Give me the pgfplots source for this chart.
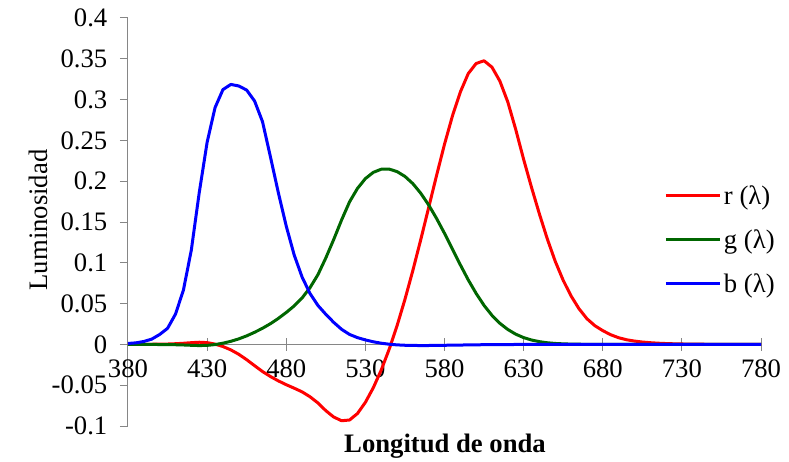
\documentclass[border=0pt]{standalone}
\usepackage{fontspec}
\setmainfont{Liberation Serif}
\usepackage{pgfplots}
\pgfplotsset{compat=1.18}
\usepackage{pgfplotstable}
\definecolor{axgray}{RGB}{134,134,134}
\definecolor{cred}{RGB}{255,0,0}
\definecolor{cgreen}{RGB}{0,102,0}
\definecolor{cblue}{RGB}{0,0,255}

\pgfplotstableread{
wl r g b
380 0.00003 -0.00001 0.00117
385 0.00005 -0.00002 0.00189
390 0.00010 -0.00004 0.00359
395 0.00017 -0.00007 0.00647
400 0.00030 -0.00014 0.01214
405 0.00047 -0.00022 0.01969
410 0.00084 -0.00041 0.03707
415 0.00139 -0.00070 0.06637
420 0.00211 -0.00110 0.11541
425 0.00266 -0.00143 0.18575
430 0.00218 -0.00119 0.24769
435 0.00036 -0.00021 0.29012
440 -0.00261 0.00149 0.31228
445 -0.00673 0.00379 0.31860
450 -0.01213 0.00678 0.31670
455 -0.01874 0.01046 0.31166
460 -0.02608 0.01485 0.29821
465 -0.03324 0.01977 0.27295
470 -0.03933 0.02538 0.22991
475 -0.04471 0.03183 0.18592
480 -0.04939 0.03914 0.14494
485 -0.05364 0.04713 0.10968
490 -0.05814 0.05689 0.08257
495 -0.06414 0.06948 0.06246
500 -0.07173 0.08536 0.04776
505 -0.08120 0.10593 0.03688
510 -0.08901 0.12860 0.02698
515 -0.09356 0.15262 0.01842
520 -0.09264 0.17468 0.01221
525 -0.08473 0.19113 0.00830
530 -0.07101 0.20317 0.00549
535 -0.05316 0.21083 0.00320
540 -0.03152 0.21466 0.00146
545 -0.00613 0.21487 0.00023
550 0.02279 0.21178 -0.00058
555 0.05514 0.20588 -0.00105
560 0.09060 0.19702 -0.00130
565 0.12840 0.18522 -0.00138
570 0.16768 0.17087 -0.00135
575 0.20715 0.15429 -0.00123
580 0.24526 0.13610 -0.00108
585 0.27989 0.11686 -0.00093
590 0.30928 0.09754 -0.00079
595 0.33184 0.07909 -0.00063
600 0.34429 0.06246 -0.00049
605 0.34756 0.04776 -0.00038
610 0.33971 0.03557 -0.00030
615 0.32265 0.02583 -0.00022
620 0.29708 0.01828 -0.00015
625 0.26348 0.01253 -0.00011
630 0.22677 0.00833 -0.00008
635 0.19233 0.00537 -0.00005
640 0.15968 0.00334 -0.00003
645 0.12905 0.00199 -0.00002
650 0.10167 0.00116 -0.00001
655 0.07857 0.00066 -0.00001
660 0.05932 0.00037 0.00000
665 0.04366 0.00021 0.00000
670 0.03149 0.00011 0.00000
675 0.02294 0.00006 0.00000
680 0.01687 0.00003 0.00000
685 0.01187 0.00001 0.00000
690 0.00819 0.00000 0.00000
695 0.00572 0.00000 0.00000
700 0.00410 0.00000 0.00000
705 0.00291 0.00000 0.00000
710 0.00210 0.00000 0.00000
715 0.00148 0.00000 0.00000
720 0.00105 0.00000 0.00000
725 0.00074 0.00000 0.00000
730 0.00052 0.00000 0.00000
735 0.00036 0.00000 0.00000
740 0.00025 0.00000 0.00000
745 0.00017 0.00000 0.00000
750 0.00012 0.00000 0.00000
755 0.00008 0.00000 0.00000
760 0.00006 0.00000 0.00000
765 0.00004 0.00000 0.00000
770 0.00003 0.00000 0.00000
775 0.00001 0.00000 0.00000
780 0.00000 0.00000 0.00000
}\cmf

\begin{document}
\begin{tikzpicture}[font=\fontsize{20pt}{24pt}\selectfont]
\useasboundingbox (0,0) rectangle (591.75pt,345.75pt);
\begin{axis}[
  at={(96pt,26.25pt)}, anchor=south west,
  scale only axis, width=474.75pt, height=306pt,
  xmin=380, xmax=780, ymin=-0.1, ymax=0.4,
  axis x line=middle, axis y line=left,
  hide obscured x ticks=false,
  axis line style={axgray, line width=0.75pt, -},
  xtick={380,430,...,780},
  ytick={-0.1,-0.05,0,0.05,0.1,0.15,0.2,0.25,0.3,0.35,0.4},
  minor tick num=0,
  xtick align=center, ytick align=outside,
  major tick length=6pt,
  x tick style={axgray, line width=0.75pt, /pgfplots/major tick length=9.75pt},
  y tick style={axgray, line width=0.75pt},
  /pgf/number format/assume math mode=true,
  /pgf/number format/fixed,
  /pgf/number format/precision=2,
  tick label style={font=\fontsize{20pt}{24pt}\selectfont, black},
  xticklabel style={yshift=-5pt},
  yticklabel style={xshift=-6pt},
  xlabel={\textbf{Longitud de onda}},
  ylabel={Luminosidad},
  label style={font=\fontsize{20pt}{24pt}\selectfont},
  xlabel style={at={(axis description cs:0.5008,-0.05)}, anchor=center},
  ylabel style={at={(axis description cs:-0.142,0.505)}, anchor=center, rotate=0},
  legend style={at={(axis description cs:0.8468,0.456)}, anchor=west, draw=none, fill=none,
    inner sep=0pt, row sep=13.4pt, font=\fontsize{20pt}{24pt}\selectfont,
    /tikz/every even column/.append style={column sep=0pt}},
  legend cell align=left,
  legend image code/.code={\draw[#1] (0pt,0pt) -- (40.5pt,0pt);},
  clip=false,
]
\addplot[cred, line width=2.25pt, line join=round] table[x=wl, y=r]{\cmf};
\addlegendentry{r (λ)}
\addplot[cgreen, line width=2.25pt, line join=round] table[x=wl, y=g]{\cmf};
\addlegendentry{g (λ)}
\addplot[cblue, line width=2.25pt, line join=round] table[x=wl, y=b]{\cmf};
\addlegendentry{b (λ)}
\end{axis}
\end{tikzpicture}
\end{document}
